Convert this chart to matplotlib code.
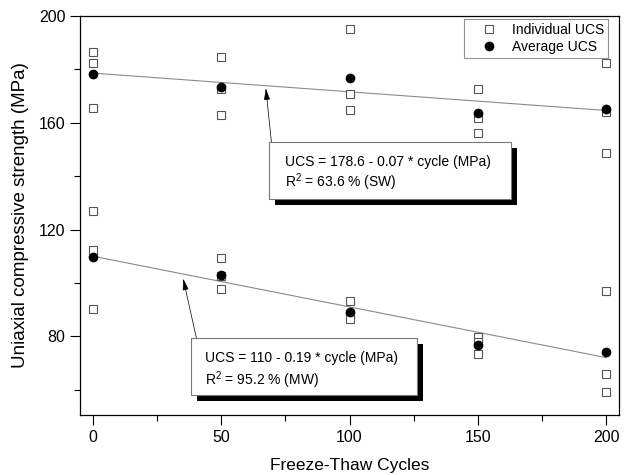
import matplotlib
matplotlib.use("Agg")
import matplotlib.pyplot as plt
from matplotlib.patches import Rectangle
from matplotlib.ticker import MultipleLocator
import numpy as np

plt.rcParams['font.family'] = ['Liberation Sans', 'DejaVu Sans']
plt.rcParams['mathtext.default'] = 'regular'

# ---- data ----
cycles = [0, 50, 100, 150, 200]
sw_individual = [
    [186.6, 182.5, 165.6],
    [184.7, 172.6, 163.0],
    [195.0, 170.6, 164.9],
    [172.6, 161.9, 156.0],
    [182.3, 163.9, 148.5],
]
sw_average = [178.1, 173.3, 176.9, 163.5, 165.0]
mw_individual = [
    [126.9, 112.5, 90.1],
    [109.4, 102.5, 97.6],
    [93.3, 88.0, 86.3],
    [79.8, 78.0, 73.4],
    [97.1, 65.8, 59.1],
]
mw_average = [109.6, 103.1, 89.1, 76.9, 74.0]
sw_fit = (178.6, -0.07)
mw_fit = (110.0, -0.19)
sw_text = ["UCS = 178.6 - 0.07 * cycle (MPa)", r"R$^{2}$ = 63.6 % (SW)"]
mw_text = ["UCS = 110 - 0.19 * cycle (MPa)", r"R$^{2}$ = 95.2 % (MW)"]

fig = plt.figure(figsize=(6.29, 4.75), dpi=100)
ax = fig.add_axes([80/629, 1-415/475, 539/629, 399/475])

def fx(px):
    return (px - 80) / 539
def fy(py):
    return (415 - py) / 399

sq = dict(marker='s', mfc='white', mec='#555555', mew=0.8, ms=5.5, ls='none')
for c, vals in zip(cycles, sw_individual):
    ax.plot([c]*len(vals), vals, zorder=3, **sq)
for c, vals in zip(cycles, mw_individual):
    ax.plot([c]*len(vals), vals, zorder=3, **sq)
ax.plot([], [], label='Individual UCS', **sq)

ax.plot(cycles, sw_average, 'o', color='black', ms=6, ls='none', zorder=4, label='Average UCS')
ax.plot(cycles, mw_average, 'o', color='black', ms=6, ls='none', zorder=4)

xs = np.array([cycles[0], cycles[-1]])
ax.plot(xs, sw_fit[0] + sw_fit[1]*xs, color='#8a8a8a', lw=0.8, zorder=2)
ax.plot(xs, mw_fit[0] + mw_fit[1]*xs, color='#8a8a8a', lw=0.8, zorder=2)

ax.set_xlim(-5, 205)
ax.set_ylim(50.5, 200)
ax.xaxis.set_major_locator(MultipleLocator(50))
ax.xaxis.set_minor_locator(MultipleLocator(25))
ax.yaxis.set_major_locator(MultipleLocator(40))
ax.yaxis.set_minor_locator(MultipleLocator(20))
ax.tick_params(which='major', direction='out', length=7, width=0.8, labelsize=11.5)
ax.tick_params(which='minor', direction='out', length=4, width=0.8)
for s in ax.spines.values():
    s.set_linewidth(0.9)

ax.set_xlabel('Freeze-Thaw Cycles', fontsize=12.5, labelpad=10)
ax.set_ylabel('Uniaxial compressive strength (MPa)', fontsize=13.5, labelpad=7)

leg = ax.legend(loc='upper right', bbox_to_anchor=(fx(608), fy(19)), fontsize=10,
                frameon=True, fancybox=False, edgecolor='#777777', borderpad=0.3,
                handletextpad=0.1, labelspacing=0.2, borderaxespad=0, handlelength=3.0)
leg.get_frame().set_linewidth(0.8)

def textbox(left, top, right, bottom, lines, tx, ty1, ty2):
    sh = 6
    ax.add_patch(Rectangle((fx(left+sh), fy(bottom+sh)), fx(right)-fx(left), fy(top)-fy(bottom),
                           transform=ax.transAxes, fc='black', ec='none', zorder=5))
    ax.add_patch(Rectangle((fx(left), fy(bottom)), fx(right)-fx(left), fy(top)-fy(bottom),
                           transform=ax.transAxes, fc='white', ec='#777777', lw=0.8, zorder=6))
    ax.text(fx(tx), fy(ty1), lines[0], transform=ax.transAxes, fontsize=10,
            family=['Liberation Sans'], va='center', ha='left', zorder=7)
    ax.text(fx(tx), fy(ty2), lines[1], transform=ax.transAxes, fontsize=10,
            family=['Liberation Sans'], va='center', ha='left', zorder=7)

textbox(269, 142, 511, 199, sw_text, 285, 162, 182)
textbox(191, 338, 417, 395, mw_text, 205, 358, 380)

arrow = dict(arrowstyle='-|>,head_length=0.7,head_width=0.18', color='black', lw=0.5,
             shrinkA=0, shrinkB=0)
ax.annotate('', xy=(67.4, 172.9), xytext=(69.6, 152.6), arrowprops=arrow, zorder=4)
ax.annotate('', xy=(35.2, 101.6), xytext=(40.4, 79.1), arrowprops=arrow, zorder=4)

fig.savefig('out.png', dpi=100)
